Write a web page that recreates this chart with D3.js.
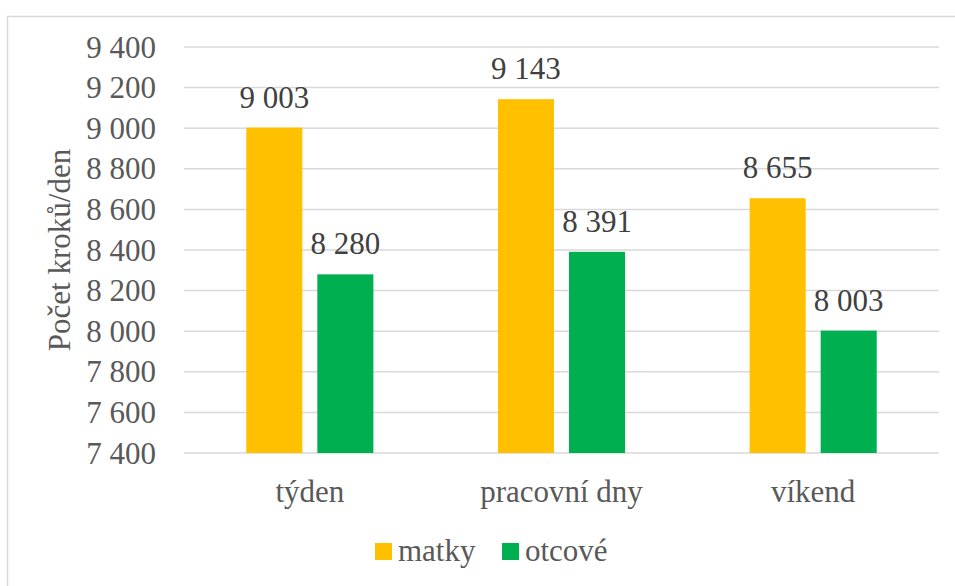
<!DOCTYPE html>
<html>
<head>
<meta charset="utf-8">
<script src="https://cdn.jsdelivr.net/npm/d3@7"></script>
</head>
<body>
<svg id="fig" width="955" height="586"></svg>
<script>
// Average daily step counts of mothers and fathers
const categories = ["týden", "pracovní dny", "víkend"];
const seriesNames = ["matky", "otcové"];
const matky = [9003, 9143, 8655];
const otcove = [8280, 8391, 8003];
const yTicks = [7400, 7600, 7800, 8000, 8200, 8400, 8600, 8800, 9000, 9200, 9400];
const yTitle = "Počet kroků/den";

const colors = ["#FFC000", "#00B050"];
const fontFamily = '"Liberation Serif"';
const fmt = v => d3.format(",")(v).replace(/,/g, " ");

d3.select("body").style("margin", "0px").style("background", "#ffffff");
const svg = d3.select("#fig")
  .style("display", "block")
  .style("font-family", fontFamily, "important");

// outer chart frame
svg.append("rect")
  .attr("x", 7.5).attr("y", 16.5)
  .attr("width", 1000).attr("height", 700)
  .attr("fill", "none").attr("stroke", "#d9d9d9").attr("stroke-width", 1.5);

const plot = { left: 184, right: 939, top: 47, bottom: 453 };

const y = d3.scaleLinear().domain([7400, 9400]).range([plot.bottom, plot.top]);
const x0 = d3.scaleBand().domain(categories).range([plot.left, plot.right])
  .paddingInner(0.495).paddingOuter(0.2475);
const x1 = d3.scaleBand().domain(seriesNames).range([0, x0.bandwidth()])
  .paddingInner(0.211);

function styleText(sel, color) {
  sel.style("font-family", fontFamily, "important")
    .style("font-size", "31px")
    .attr("fill", color);
}

// gridlines
svg.append("g").selectAll("line").data(yTicks).join("line")
  .attr("x1", plot.left).attr("x2", plot.right)
  .attr("y1", d => y(d)).attr("y2", d => y(d))
  .attr("stroke", "#d9d9d9").attr("stroke-width", 1.5);

// y tick labels
svg.append("g").selectAll("text").data(yTicks).join("text")
  .attr("x", 156).attr("y", d => y(d)).attr("dy", "0.34em")
  .attr("text-anchor", "end")
  .call(styleText, "#595959")
  .text(fmt);

// y axis title
svg.append("text")
  .attr("transform", `translate(70, ${(plot.top + plot.bottom) / 2}) rotate(-90)`)
  .attr("text-anchor", "middle")
  .call(styleText, "#595959")
  .text(yTitle);

// bars
const rows = categories.map((c, i) => ({ cat: c, values: [matky[i], otcove[i]] }));
const groups = svg.append("g").selectAll("g").data(rows).join("g")
  .attr("transform", d => `translate(${x0(d.cat)},0)`);

groups.selectAll("rect").data(d => d.values.map((v, k) => ({ key: seriesNames[k], v, k })))
  .join("rect")
  .attr("x", d => x1(d.key))
  .attr("width", x1.bandwidth())
  .attr("y", d => y(d.v))
  .attr("height", d => y(7400) - y(d.v))
  .attr("fill", d => colors[d.k]);

// value labels
groups.selectAll("text").data(d => d.values.map((v, k) => ({ key: seriesNames[k], v, k })))
  .join("text")
  .attr("x", d => x1(d.key) + x1.bandwidth() / 2)
  .attr("y", d => y(d.v) - 20)
  .attr("text-anchor", "middle")
  .call(styleText, "#404040")
  .text(d => fmt(d.v));

// category labels
svg.append("g").selectAll("text").data(categories).join("text")
  .attr("x", d => x0(d) + x0.bandwidth() / 2)
  .attr("y", 502)
  .attr("text-anchor", "middle")
  .call(styleText, "#595959")
  .text(d => d);

// legend
const legendX = [375, 502];
const legend = svg.append("g").selectAll("g").data(seriesNames).join("g")
  .attr("transform", (d, i) => `translate(${legendX[i]}, 543)`);
legend.append("rect").attr("width", 17).attr("height", 17)
  .attr("fill", (d, i) => colors[i]);
legend.append("text").attr("x", 23).attr("y", 18)
  .call(styleText, "#595959")
  .text(d => d);
</script>
</body>
</html>
